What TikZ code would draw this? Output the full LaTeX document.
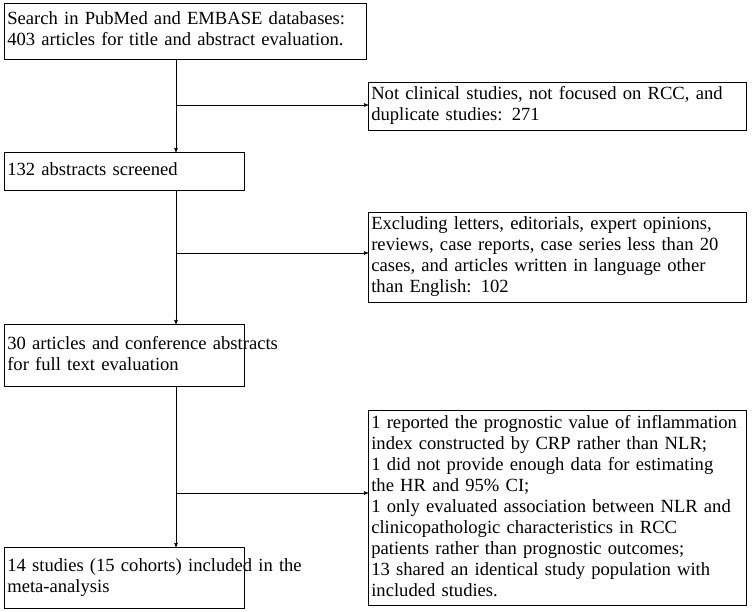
\documentclass[tikz,border=0pt]{standalone}
\usepackage{fontspec}
\setmainfont{Liberation Serif}
\usetikzlibrary{arrows}
\newcommand{\boxlines}[1]{\begin{tabular}{@{}l@{}}#1\end{tabular}}
\begin{document}
\begin{tikzpicture}[x=1pt,y=-1pt,->,>=stealth',semithick,
                    font=\fontsize{18.6pt}{21pt}\selectfont]
\tikzset{box/.style={draw=black,anchor=north west,align=left,inner xsep=3pt,inner ysep=3pt}}
\useasboundingbox (0,0) rectangle (752,612);

        \node[box,text width=356pt,minimum height=56pt]  (search)  at (4,3)   {\boxlines{Search in PubMed and EMBASE databases:\\403 articles for title and abstract evaluation.}};
        \node[box,text width=372pt,minimum height=46pt]  (notclin) at (368,82) {\boxlines{Not clinical studies, not focused on RCC, and\\duplicate studies: 271}};
        \node[box,text width=234pt,minimum height=38pt]  (screen)  at (4,152) {\boxlines{132 abstracts screened}};
        \node[box,text width=372pt,minimum height=82pt]  (exclude) at (368,212) {\boxlines{Excluding letters, editorials, expert opinions,\\reviews, case reports, case series less than 20\\cases, and articles written in language other\\than English: 102}};
        \node[box,text width=234pt,minimum height=62pt]  (full)    at (4,324) {\boxlines{30 articles and conference abstracts\\for full text evaluation}};
        \node[box,text width=372pt,minimum height=168pt] (reason)  at (368,410) {\boxlines{1 reported the prognostic value of inflammation\\index constructed by CRP rather than NLR;\\1 did not provide enough data for estimating\\the HR and 95\% CI;\\1 only evaluated association between NLR and\\clinicopathologic characteristics in RCC\\patients rather than prognostic outcomes;\\13 shared an identical study population with\\included studies.}};
        \node[box,text width=234pt,minimum height=61pt]  (meta)    at (4,547) {\boxlines{14 studies (15 cohorts) included in the\\meta-analysis}};

        \coordinate (j1) at (176,105);
        \coordinate (j2) at (176,253);
        \coordinate (j3) at (176,493);

        \draw (search.south -| j1) -- (screen.north -| j1);
        \draw (screen.south -| j2) -- (full.north -| j2);
        \draw (full.south -| j3) -- (meta.north -| j3);
        \draw (j1) -- (notclin.west |- j1);
        \draw (j2) -- (exclude.west |- j2);
        \draw (j3) -- (reason.west |- j3);
\end{tikzpicture}
\end{document}
